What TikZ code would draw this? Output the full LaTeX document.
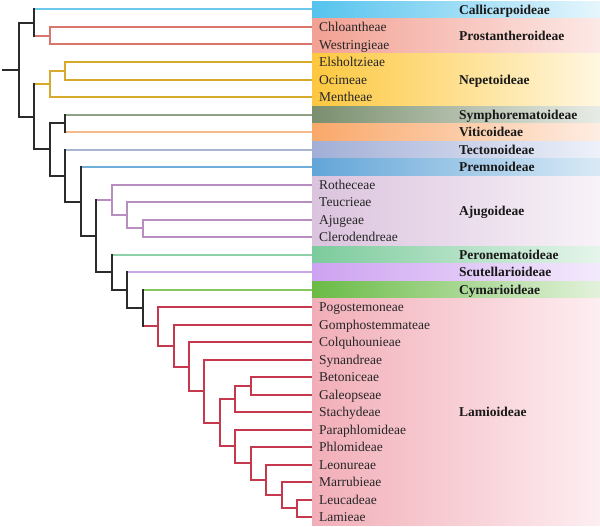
\documentclass[tikz,border=0pt]{standalone}
\usepackage{fontspec}
\setmainfont{Liberation Serif}
\usetikzlibrary{calc}
\definecolor{kBlack}{HTML}{2B2B2B}
\definecolor{lCall}{HTML}{6CC9EC}\definecolor{aCall}{HTML}{55C3EE}\definecolor{zCall}{HTML}{E6F6FC}
\definecolor{lPros}{HTML}{D9766C}\definecolor{aPros}{HTML}{F2A193}\definecolor{zPros}{HTML}{FCE9E6}
\definecolor{lNepe}{HTML}{D6AA2A}\definecolor{aNepe}{HTML}{FDC83F}\definecolor{zNepe}{HTML}{FFF7E1}
\definecolor{lSymp}{HTML}{8FA184}\definecolor{aSymp}{HTML}{7A8F6E}\definecolor{zSymp}{HTML}{E8ECE6}
\definecolor{lViti}{HTML}{F6B98A}\definecolor{aViti}{HTML}{F9A86A}\definecolor{zViti}{HTML}{FEEDE2}
\definecolor{lTect}{HTML}{A9B6D2}\definecolor{aTect}{HTML}{A2AED6}\definecolor{zTect}{HTML}{EEF1FA}
\definecolor{lPrem}{HTML}{6FAEDA}\definecolor{aPrem}{HTML}{63A5D8}\definecolor{zPrem}{HTML}{D9EAF6}
\definecolor{lAjug}{HTML}{B88DC0}\definecolor{aAjug}{HTML}{DBC3DE}\definecolor{zAjug}{HTML}{F8F3F8}
\definecolor{lPero}{HTML}{8FD2AA}\definecolor{aPero}{HTML}{7CCB9C}\definecolor{zPero}{HTML}{E6F5EB}
\definecolor{lScut}{HTML}{C9A9EC}\definecolor{aScut}{HTML}{CDA2F0}\definecolor{zScut}{HTML}{F3EAFC}
\definecolor{lCyma}{HTML}{88C65F}\definecolor{aCyma}{HTML}{69BB45}\definecolor{zCyma}{HTML}{E3F2DB}
\definecolor{lLami}{HTML}{C5384D}\definecolor{aLami}{HTML}{F2AEB8}\definecolor{zLami}{HTML}{FDEEF1}
\newcommand{\brH}[3]{\draw[br,#3] (#1 |- #2) -- (#2);}
\newcommand{\brV}[4]{\draw[br,#4,line cap=rect] (#1 |- #2) -- (#1 |- #3);}
\begin{document}
\begin{tikzpicture}[x=1pt,y=-17.5pt,
  br/.style={line width=2pt},
  band/.style={anchor=west,minimum width=288pt,inner sep=0pt,outer sep=0pt},
  tribe/.style={anchor=west,inner xsep=7pt,inner ysep=0pt,text height=9.1pt,text depth=0pt,
    font=\fontsize{13.5}{15}\selectfont,text=black!85},
  sub/.style={anchor=west,inner sep=0pt,text height=9.1pt,text depth=0pt,
    font=\fontsize{13.5}{15}\selectfont\bfseries,text=black!90}]
\useasboundingbox (0,-0.542857) rectangle (600,29.571429);
% bands
\node[band,minimum height=16.7pt,left color=aCall,right color=zCall] (bCall) at (312,0) {};
\node[band,minimum height=34.2pt,left color=aPros,right color=zPros] (bPros) at (312,1.5) {};
\node[band,minimum height=51.7pt,left color=aNepe,right color=zNepe] (bNepe) at (312,4) {};
\node[band,minimum height=16.7pt,left color=aSymp,right color=zSymp] (bSymp) at (312,6) {};
\node[band,minimum height=16.7pt,left color=aViti,right color=zViti] (bViti) at (312,7) {};
\node[band,minimum height=16.7pt,left color=aTect,right color=zTect] (bTect) at (312,8) {};
\node[band,minimum height=16.7pt,left color=aPrem,right color=zPrem] (bPrem) at (312,9) {};
\node[band,minimum height=69.2pt,left color=aAjug,right color=zAjug] (bAjug) at (312,11.5) {};
\node[band,minimum height=16.7pt,left color=aPero,right color=zPero] (bPero) at (312,14) {};
\node[band,minimum height=16.7pt,left color=aScut,right color=zScut] (bScut) at (312,15) {};
\node[band,minimum height=16.7pt,left color=aCyma,right color=zCyma] (bCyma) at (312,16) {};
\node[band,minimum height=226.7pt,left color=aLami,right color=zLami] (bLami) at (312,23) {};
% subfamily labels
\node[sub] (sCall) at (459,0) {Callicarpoideae};
\node[sub] (sPros) at (459,1.5) {Prostantheroideae};
\node[sub] (sNepe) at (459,4) {Nepetoideae};
\node[sub] (sSymp) at (459,6) {Symphorematoideae};
\node[sub] (sViti) at (459,7) {Viticoideae};
\node[sub] (sTect) at (459,8) {Tectonoideae};
\node[sub] (sPrem) at (459,9) {Premnoideae};
\node[sub] (sAjug) at (459,11.5) {Ajugoideae};
\node[sub] (sPero) at (459,14) {Peronematoideae};
\node[sub] (sScut) at (459,15) {Scutellarioideae};
\node[sub] (sCyma) at (459,16) {Cymarioideae};
\node[sub] (sLami) at (459,23) {Lamioideae};
% tribes
\node[tribe] (tChlo) at (312,1) {Chloantheae};
\node[tribe] (tWest) at (312,2) {Westringieae};
\node[tribe] (tElsh) at (312,3) {Elsholtzieae};
\node[tribe] (tOcim) at (312,4) {Ocimeae};
\node[tribe] (tMent) at (312,5) {Mentheae};
\node[tribe] (tRoth) at (312,10) {Rotheceae};
\node[tribe] (tTeuc) at (312,11) {Teucrieae};
\node[tribe] (tAjug) at (312,12) {Ajugeae};
\node[tribe] (tCler) at (312,13) {Clerodendreae};
\node[tribe] (tPogo) at (312,17) {Pogostemoneae};
\node[tribe] (tGomp) at (312,18) {Gomphostemmateae};
\node[tribe] (tColq) at (312,19) {Colquhounieae};
\node[tribe] (tSyna) at (312,20) {Synandreae};
\node[tribe] (tBeto) at (312,21) {Betoniceae};
\node[tribe] (tGale) at (312,22) {Galeopseae};
\node[tribe] (tStac) at (312,23) {Stachydeae};
\node[tribe] (tPara) at (312,24) {Paraphlomideae};
\node[tribe] (tPhlo) at (312,25) {Phlomideae};
\node[tribe] (tLeon) at (312,26) {Leonureae};
\node[tribe] (tMarr) at (312,27) {Marrubieae};
\node[tribe] (tLeuc) at (312,28) {Leucadeae};
\node[tribe] (tLami) at (312,29) {Lamieae};
% internal nodes
\coordinate (stub) at (1.5,3.436);
\coordinate (root) at (19,3.436);
\coordinate (A) at (34.45,0.75);
\coordinate (B) at (34.45,6.1215);
\coordinate (PR) at (49.9,1.5);
\coordinate (NE1) at (49.9,4.25);
\coordinate (C) at (49.9,7.993);
\coordinate (NE2) at (65.35,3.5);
\coordinate (D) at (65.35,6.5);
\coordinate (E) at (65.35,9.4859);
\coordinate (F) at (80.8,10.9719);
\coordinate (G) at (96.25,12.9438);
\coordinate (H) at (111.7,10.875);
\coordinate (K) at (111.7,15.0126);
\coordinate (I) at (127.15,11.75);
\coordinate (L) at (127.15,16.0251);
\coordinate (J) at (142.6,12.5);
\coordinate (M) at (142.6,17.0503);
\coordinate (N1) at (158.05,18.1006);
\coordinate (N2) at (173.5,19.2012);
\coordinate (N3) at (188.95,20.4023);
\coordinate (N4) at (204.4,21.8047);
\coordinate (N5) at (219.85,23.6094);
\coordinate (N6) at (235.3,22.25);
\coordinate (N8) at (235.3,24.9688);
\coordinate (N7) at (250.75,21.5);
\coordinate (N9) at (250.75,25.9375);
\coordinate (N10) at (266.2,26.875);
\coordinate (N11) at (281.65,27.75);
\coordinate (N12) at (297.1,28.5);
% branches: horizontals
\draw[br,kBlack] (stub) -- (root);
\brH{root}{A}{kBlack} \brH{root}{B}{kBlack}
\brH{A}{bCall.west}{lCall} \brH{A}{PR}{lPros}
\brH{PR}{tChlo.west}{lPros} \brH{PR}{tWest.west}{lPros}
\brH{B}{NE1}{lNepe} \brH{B}{C}{kBlack}
\brH{NE1}{NE2}{lNepe} \brH{NE1}{tMent.west}{lNepe}
\brH{NE2}{tElsh.west}{lNepe} \brH{NE2}{tOcim.west}{lNepe}
\brH{C}{D}{kBlack} \brH{C}{E}{kBlack}
\brH{D}{bSymp.west}{lSymp} \brH{D}{bViti.west}{lViti}
\brH{E}{bTect.west}{lTect} \brH{E}{F}{kBlack}
\brH{F}{bPrem.west}{lPrem} \brH{F}{G}{kBlack}
\brH{G}{H}{lAjug} \brH{G}{K}{kBlack}
\brH{H}{tRoth.west}{lAjug} \brH{H}{I}{lAjug}
\brH{I}{tTeuc.west}{lAjug} \brH{I}{J}{lAjug}
\brH{J}{tAjug.west}{lAjug} \brH{J}{tCler.west}{lAjug}
\brH{K}{bPero.west}{lPero} \brH{K}{L}{kBlack}
\brH{L}{bScut.west}{lScut} \brH{L}{M}{kBlack}
\brH{M}{bCyma.west}{lCyma} \brH{M}{N1}{lLami}
\brH{N1}{tPogo.west}{lLami} \brH{N1}{N2}{lLami}
\brH{N2}{tGomp.west}{lLami} \brH{N2}{N3}{lLami}
\brH{N3}{tColq.west}{lLami} \brH{N3}{N4}{lLami}
\brH{N4}{tSyna.west}{lLami} \brH{N4}{N5}{lLami}
\brH{N5}{N6}{lLami} \brH{N5}{N8}{lLami}
\brH{N6}{N7}{lLami} \brH{N6}{tStac.west}{lLami}
\brH{N7}{tBeto.west}{lLami} \brH{N7}{tGale.west}{lLami}
\brH{N8}{tPara.west}{lLami} \brH{N8}{N9}{lLami}
\brH{N9}{tPhlo.west}{lLami} \brH{N9}{N10}{lLami}
\brH{N10}{tLeon.west}{lLami} \brH{N10}{N11}{lLami}
\brH{N11}{tMarr.west}{lLami} \brH{N11}{N12}{lLami}
\brH{N12}{tLeuc.west}{lLami} \brH{N12}{tLami.west}{lLami}
% branches: verticals
\brV{root}{A}{B}{kBlack}
\brV{A}{bCall.west}{PR}{kBlack}
\brV{PR}{tChlo.west}{tWest.west}{lPros}
\brV{B}{NE1}{C}{kBlack}
\brV{NE1}{NE2}{tMent.west}{lNepe}
\brV{NE2}{tElsh.west}{tOcim.west}{lNepe}
\brV{C}{D}{E}{kBlack}
\brV{D}{bSymp.west}{bViti.west}{kBlack}
\brV{E}{bTect.west}{F}{kBlack}
\brV{F}{bPrem.west}{G}{kBlack}
\brV{G}{H}{K}{kBlack}
\brV{H}{tRoth.west}{I}{lAjug}
\brV{I}{tTeuc.west}{J}{lAjug}
\brV{J}{tAjug.west}{tCler.west}{lAjug}
\brV{K}{bPero.west}{L}{kBlack}
\brV{L}{bScut.west}{M}{kBlack}
\brV{M}{bCyma.west}{N1}{kBlack}
\brV{N1}{tPogo.west}{N2}{lLami}
\brV{N2}{tGomp.west}{N3}{lLami}
\brV{N3}{tColq.west}{N4}{lLami}
\brV{N4}{tSyna.west}{N5}{lLami}
\brV{N5}{N6}{N8}{lLami}
\brV{N6}{N7}{tStac.west}{lLami}
\brV{N7}{tBeto.west}{tGale.west}{lLami}
\brV{N8}{tPara.west}{N9}{lLami}
\brV{N9}{tPhlo.west}{N10}{lLami}
\brV{N10}{tLeon.west}{N11}{lLami}
\brV{N11}{tMarr.west}{N12}{lLami}
\brV{N12}{tLeuc.west}{tLami.west}{lLami}
\end{tikzpicture}
\end{document}
